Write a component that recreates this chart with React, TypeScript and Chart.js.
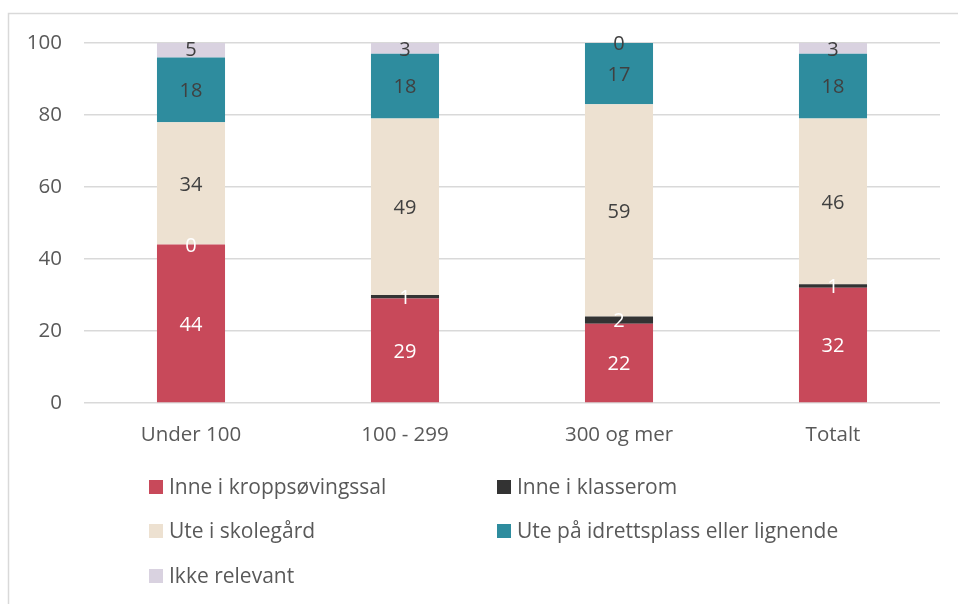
import React, { useEffect, useRef } from "react";
import { Chart, registerables } from "chart.js";

Chart.register(...registerables);

const categories = ["Under 100", "100 - 299", "300 og mer", "Totalt"];
const seriesNames = [
  "Inne i kroppsøvingssal",
  "Inne i klasserom",
  "Ute i skolegård",
  "Ute på idrettsplass eller lignende",
  "Ikke relevant",
];
const kroppsovingssal = [44, 29, 22, 32];
const klasserom = [0, 1, 2, 1];
const skolegard = [34, 49, 59, 46];
const idrettsplass = [18, 18, 17, 18];
const ikkeRelevant = [5, 3, 0, 3];
const yTicks = [0, 20, 40, 60, 80, 100];

const colors = ["#C8495A", "#333333", "#EDE1D1", "#2E8C9E", "#D9D2E0"];
const labelColors = ["#FFFFFF", "#FFFFFF", "#404040", "#404040", "#404040"];
const FONT = "'Open Sans', sans-serif";

const frame = {
  id: "frame",
  beforeDraw(chart: any) {
    const ctx = chart.ctx;
    ctx.save();
    ctx.strokeStyle = "#D9D9D9";
    ctx.lineWidth = 1.5;
    ctx.strokeRect(8.5, 13.5, 2000, 2000);
    ctx.restore();
  },
};

const dataLabels = {
  id: "dataLabels",
  afterDatasetsDraw(chart: any) {
    const ctx = chart.ctx;
    ctx.save();
    ctx.font = `20px ${FONT}`;
    ctx.textAlign = "center";
    ctx.textBaseline = "middle";
    chart.data.datasets.forEach((ds: any, i: number) => {
      const meta = chart.getDatasetMeta(i);
      meta.data.forEach((el: any, j: number) => {
        const p = el.getProps(["x", "y", "base"], true);
        ctx.fillStyle = labelColors[i];
        ctx.fillText(String(ds.data[j]), p.x, (p.y + p.base) / 2 + 1.5);
      });
    });
    ctx.restore();
  },
};

const legendLayout = [
  { x: 149, y: 487 },
  { x: 497, y: 487 },
  { x: 149, y: 531 },
  { x: 497, y: 531 },
  { x: 149, y: 576 },
];

const customLegend = {
  id: "customLegend",
  afterDraw(chart: any) {
    const ctx = chart.ctx;
    ctx.save();
    ctx.font = `21px ${FONT}`;
    ctx.textBaseline = "middle";
    ctx.textAlign = "left";
    chart.data.datasets.forEach((ds: any, i: number) => {
      const pos = legendLayout[i];
      ctx.fillStyle = ds.backgroundColor;
      ctx.fillRect(pos.x, pos.y - 7, 14, 14);
      ctx.fillStyle = "#595959";
      ctx.fillText(ds.label, pos.x + 20, pos.y + 1);
    });
    ctx.restore();
  },
};

export default function App() {
  const ref = useRef<HTMLCanvasElement>(null);
  useEffect(() => {
    if (!ref.current) return;
    const values = [kroppsovingssal, klasserom, skolegard, idrettsplass, ikkeRelevant];
    const chart = new Chart(ref.current, {
      type: "bar",
      data: {
        labels: categories,
        datasets: values.map((v, i) => ({
          label: seriesNames[i],
          data: v,
          backgroundColor: colors[i],
          borderWidth: 0,
          barPercentage: 1,
          categoryPercentage: 0.318,
        })),
      },
      options: {
        animation: false,
        responsive: true,
        maintainAspectRatio: false,
        layout: { padding: { left: 0, right: 18, top: 43, bottom: 0 } },
        plugins: {
          legend: { display: false },
          tooltip: { enabled: false },
        },
        scales: {
          x: {
            stacked: true,
            grid: { display: false, drawTicks: false },
            border: { display: false },
            ticks: {
              color: "#595959",
              font: { family: FONT, size: 20.5 },
              padding: 20,
              maxRotation: 0,
            },
            afterFit: (s: any) => {
              s.height = 201;
            },
          },
          y: {
            stacked: true,
            min: 0,
            max: 100,
            afterBuildTicks: (s: any) => {
              s.ticks = yTicks.map((v) => ({ value: v }));
            },
            grid: { color: "#D9D9D9", lineWidth: 1.5, drawTicks: false },
            border: { display: false },
            ticks: {
              color: "#595959",
              font: { family: FONT, size: 20.5 },
              padding: 22,
            },
            afterFit: (s: any) => {
              s.width = 84;
            },
          },
        },
      },
      plugins: [frame, dataLabels, customLegend],
    });
    return () => chart.destroy();
  }, []);
  return (
    <div style={{ position: "absolute", left: 0, top: 0, width: 958, height: 604, background: "#fff" }}>
      <canvas ref={ref} />
    </div>
  );
}
